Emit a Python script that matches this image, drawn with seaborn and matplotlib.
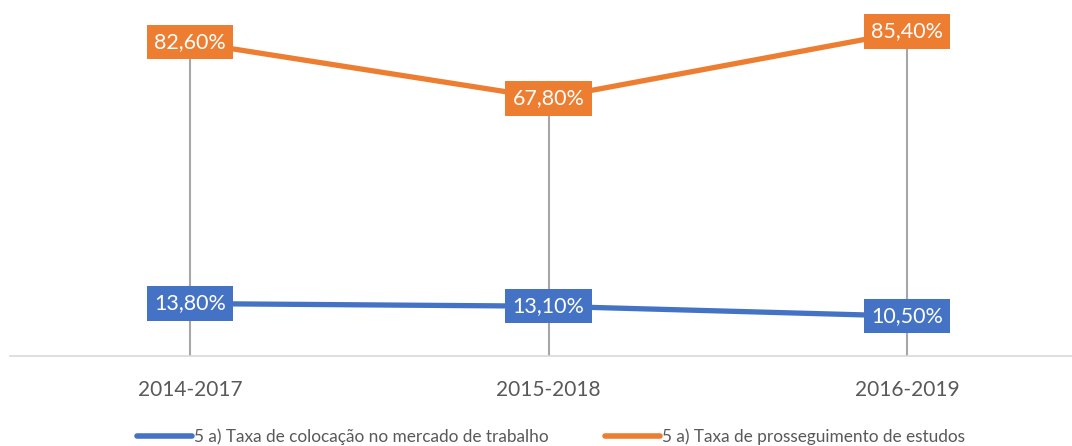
import matplotlib
matplotlib.use("Agg")
import matplotlib.pyplot as plt
import seaborn as sns
import pandas as pd

periods = ["2014-2017", "2015-2018", "2016-2019"]
series_names = ["5 a) Taxa de colocação no mercado de trabalho",
                "5 a) Taxa de prosseguimento de estudos"]
colocacao = [13.8, 13.1, 10.5]
prosseguimento = [82.6, 67.8, 85.4]
colors = ["#4472C4", "#ED7D31"]

sns.set_theme(style="white")
plt.rcParams['font.family'] = ['Lato', 'DejaVu Sans']

df = pd.DataFrame({
    "period": periods * 2,
    "value": colocacao + prosseguimento,
    "serie": [series_names[0]] * 3 + [series_names[1]] * 3,
})

fig = plt.figure(figsize=(10.72, 4.46), dpi=100)
ax = fig.add_axes([10 / 1072, (446 - 356) / 446, 1 - 10 / 1072, 356 / 446])

# drop lines
xs = list(range(len(periods)))
tops = [max(a, b) for a, b in zip(colocacao, prosseguimento)]
ax.vlines(xs, 0, tops, color="#A6A6A6", lw=1.5, zorder=1)

sns.lineplot(data=df, x="period", y="value", hue="serie", palette=colors,
             lw=3.8, ax=ax, legend=False, zorder=2, sort=False)

for vals, c in zip([colocacao, prosseguimento], colors):
    for i, v in enumerate(vals):
        ax.text(i, v, f"{v:.2f}".replace(".", ",") + "%", ha="center", va="center",
                color="white", fontsize=15.5, zorder=5,
                bbox=dict(boxstyle="square,pad=0.33", fc=c, ec="none"))

ax.set_xlim(-0.502, 2.46)
ax.set_ylim(0, 93.7)
ax.set_xlabel("")
ax.set_ylabel("")
ax.set_yticks([])
ax.set_xticks(xs)
ax.set_xticklabels(periods, fontsize=15, color="#595959")
ax.tick_params(axis="x", length=0, pad=17)
for s in ["top", "right", "left"]:
    ax.spines[s].set_visible(False)
ax.spines["bottom"].set_color("#D9D9D9")
ax.spines["bottom"].set_linewidth(1.2)

from matplotlib.lines import Line2D
handles = [Line2D([], [], color=c, lw=4, solid_capstyle="round") for c in colors]
fig.legend(handles, series_names, loc="center", bbox_to_anchor=(0.514, 1 - 437 / 446),
           ncol=2, frameon=False, fontsize=12.4, labelcolor="#595959",
           handlelength=3.2, handletextpad=0.1, columnspacing=3.3)

fig.savefig("out.png", dpi=100)
